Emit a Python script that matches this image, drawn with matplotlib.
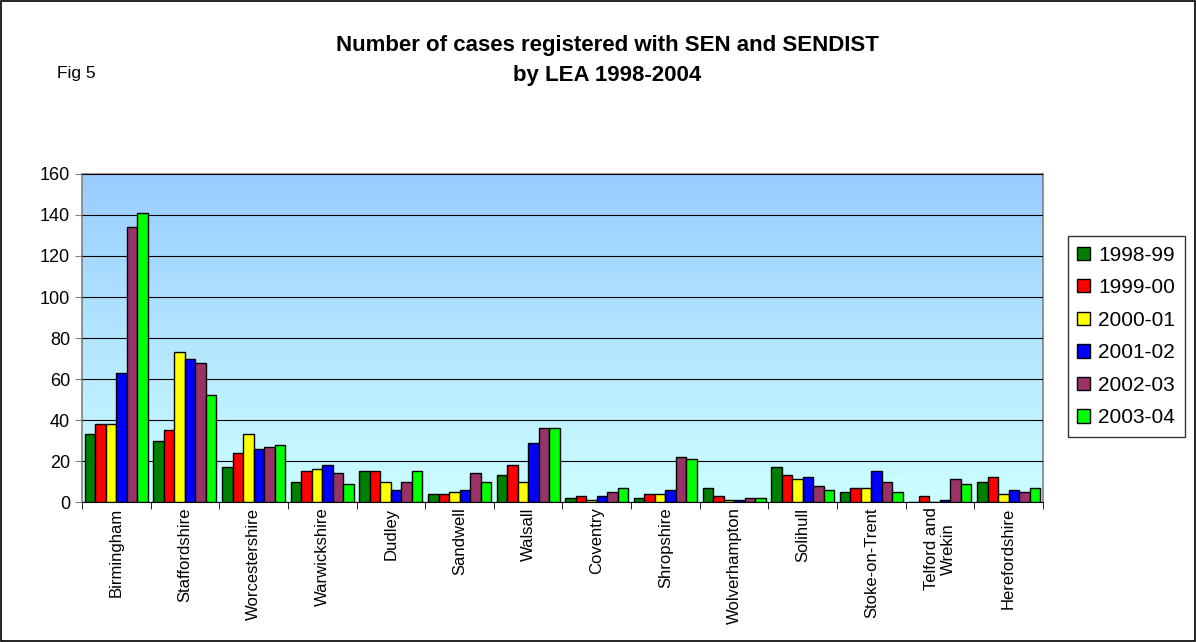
import numpy as np
import matplotlib
matplotlib.use("Agg")
import matplotlib.pyplot as plt
from matplotlib.patches import Patch, Rectangle

plt.rcParams['font.family'] = ['Liberation Sans', 'DejaVu Sans']

# ===== DATA =====
leas = ["Birmingham", "Staffordshire", "Worcestershire", "Warwickshire", "Dudley",
        "Sandwell", "Walsall", "Coventry", "Shropshire", "Wolverhampton",
        "Solihull", "Stoke-on-Trent", "Telford and\nWrekin", "Herefordshire"]
years = ["1998-99", "1999-00", "2000-01", "2001-02", "2002-03", "2003-04"]

y1998 = [33, 30, 17, 10, 15, 4, 13, 2, 2, 7, 17, 5, 0, 10]
y1999 = [38, 35, 24, 15, 15, 4, 18, 3, 4, 3, 13, 7, 3, 12]
y2000 = [38, 73, 33, 16, 10, 5, 10, 1, 4, 1, 11, 7, 0, 4]
y2001 = [63, 70, 26, 18, 6, 6, 29, 3, 6, 1, 12, 15, 1, 6]
y2002 = [134, 68, 27, 14, 10, 14, 36, 5, 22, 2, 8, 10, 11, 5]
y2003 = [141, 52, 28, 9, 15, 10, 36, 7, 21, 2, 6, 5, 9, 7]
series = [y1998, y1999, y2000, y2001, y2002, y2003]
colors = ["#008000", "#FF0000", "#FFFF00", "#0000FF", "#993366", "#00FF00"]

# ===== FIGURE =====
fig = plt.figure(figsize=(11.96, 6.42), dpi=100)
ax = fig.add_axes([0.0686, 0.218, 0.8034, 0.511])

# gradient background
grad = np.linspace(0, 1, 256).reshape(-1, 1)
cmap = matplotlib.colors.LinearSegmentedColormap.from_list("bg", ["#CCFFFF", "#99CCFF"])
ax.imshow(grad, extent=[-0.5, len(leas) - 0.5, 0, 160], origin="lower",
          aspect="auto", cmap=cmap, zorder=0)

x = np.arange(len(leas))
w = 0.153
for i, (vals, c, lab) in enumerate(zip(series, colors, years)):
    ax.bar(x + (i - 2.5) * w, vals, width=w, color=c, edgecolor="black",
           linewidth=1.0, label=lab, zorder=3)

ax.set_xlim(-0.5, len(leas) - 0.5)
ax.set_ylim(0, 160)
ax.set_yticks(range(0, 161, 20))
ax.yaxis.grid(True, color="black", linewidth=0.8, zorder=1)
ax.set_axisbelow(False)

ax.set_xticks(x)
ax.set_xticklabels(leas, rotation=90, fontsize=12, va="top", ha="center")
ax.set_xticks(np.arange(-0.5, len(leas), 1), minor=True)
ax.tick_params(axis="x", which="major", length=0, pad=4)
ax.tick_params(axis="x", which="minor", length=5, color="black")
ax.tick_params(axis="y", labelsize=13, length=5, color="#808080")

for s in ["top", "right", "left"]:
    ax.spines[s].set_color("#808080")
    ax.spines[s].set_linewidth(1.2)
ax.spines["bottom"].set_color("black")

# titles
fig.text(0.508, 1 - 45 / 642, "Number of cases registered with SEN and SENDIST",
         ha="center", va="center", fontsize=16, fontweight="bold")
fig.text(0.508, 1 - 76 / 642, "by LEA 1998-2004",
         ha="center", va="center", fontsize=16, fontweight="bold")
fig.text(0.048, 0.885, "Fig 5", fontsize=12.5, va="center")

# legend
handles = [Patch(facecolor=c, edgecolor="black", label=l) for c, l in zip(colors, years)]
leg = fig.legend(handles=handles, loc="upper left", bbox_to_anchor=(0.893, 0.632),
                 fontsize=15, frameon=True, fancybox=False, edgecolor="black",
                 handlelength=0.6, handleheight=0.6, handletextpad=0.4,
                 labelspacing=0.65, borderpad=0.45, borderaxespad=0)
leg.get_frame().set_linewidth(1.0)

# outer border
fig.patches.append(Rectangle((0.001, 0.001), 0.998, 0.997, transform=fig.transFigure,
                             fill=False, edgecolor="black", linewidth=1.2))

fig.savefig("out.png", dpi=100)
